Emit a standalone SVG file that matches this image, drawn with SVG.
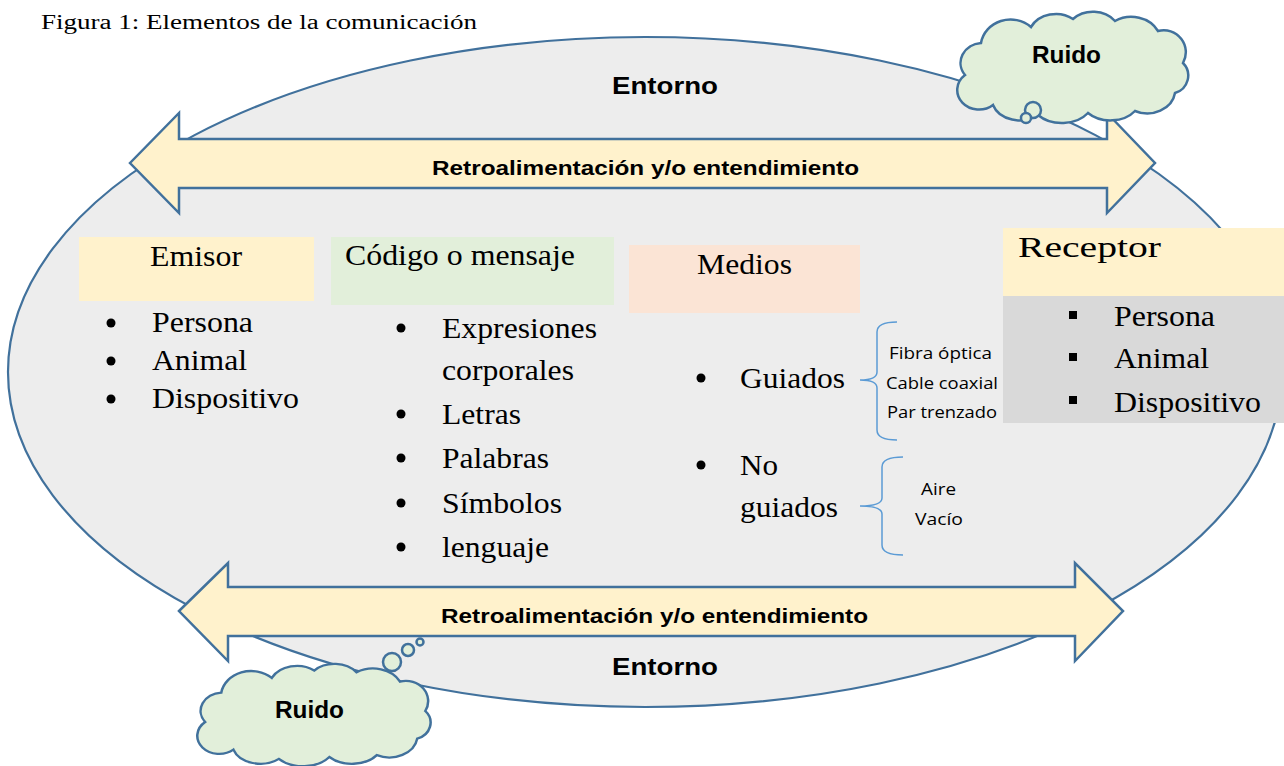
<svg xmlns="http://www.w3.org/2000/svg" width="1284" height="766" viewBox="0 0 1284 766">
<style>
.ser{font-family:"Liberation Serif","Times New Roman",serif;fill:#000}
.bold{font-family:"Liberation Sans",Arial,sans-serif;font-weight:bold;fill:#000}
.cal{font-family:"Open Sans","Liberation Sans",sans-serif;fill:#000;font-size:16px}
.edge{stroke:#41719c;stroke-width:2.2}
.brace{fill:none;stroke:#5b9bd5;stroke-width:1.5}
.cloud{fill:#e2efda;stroke:#41719c;stroke-width:2.5}
.arrow{fill:#fff2cc;stroke:#41719c;stroke-width:2.5;stroke-linejoin:miter}
</style>
<defs>
<path id="cloudShape" d="M 12,62 A 22,20 0 0 1 28,30 A 30,28 0 0 1 78,14 A 28,24 0 0 1 120,6 A 28,24 0 0 1 162,8 A 30,26 0 0 1 205,18 A 22,22 0 0 1 230,50 A 18,18 0 0 1 222,80 A 28,24 0 0 1 182,98 A 30,22 0 0 1 135,100 A 32,24 0 0 1 85,102 A 28,22 0 0 1 40,92 A 20,18 0 0 1 12,62 Z"/>
</defs>
<rect width="1284" height="766" fill="#fff"/>
<text class="ser" x="41" y="29" font-size="20" textLength="436" lengthAdjust="spacingAndGlyphs">Figura 1: Elementos de la comunicación</text>

<g id="entorno">
<ellipse cx="645" cy="372" rx="637" ry="335" fill="#ededed" class="edge"/>
<text class="bold" x="612" y="94" font-size="24" textLength="106" lengthAdjust="spacingAndGlyphs">Entorno</text>
<text class="bold" x="612" y="675" font-size="24" textLength="106" lengthAdjust="spacingAndGlyphs">Entorno</text>
</g>

<g id="connectors">
<path class="arrow" d="M130,163 L179,113 L179,139 L1107,139 L1107,113 L1155,163 L1107,213 L1107,188 L179,188 L179,213 Z"/>
<text class="bold" x="432" y="175" font-size="20" textLength="427" lengthAdjust="spacingAndGlyphs">Retroalimentación y/o entendimiento</text>
<path class="arrow" d="M179,611 L228,563 L228,587 L1075,587 L1075,563 L1123,611 L1075,661 L1075,636 L228,636 L228,661 Z"/>
<text class="bold" x="441" y="623" font-size="20" textLength="427" lengthAdjust="spacingAndGlyphs">Retroalimentación y/o entendimiento</text>
<path class="brace" d="M897,322 Q877,322 877,332 L877,372 Q877,380 860,380 Q877,380 877,388 L877,430 Q877,440 897,440"/>
<path class="brace" d="M903,457 Q882,457 882,467 L882,498 Q882,506 860,506 Q882,506 882,514 L882,545 Q882,555 903,555"/>
</g>

<g id="ruido-top">
<use href="#cloudShape" class="cloud" transform="translate(953,13)"/>
<circle cx="1033" cy="110" r="8" class="cloud"/>
<circle cx="1026" cy="118" r="5" class="cloud"/>
<text class="bold" x="1032" y="63" font-size="23" textLength="69" lengthAdjust="spacingAndGlyphs">Ruido</text>
</g>

<g id="ruido-bottom">
<use href="#cloudShape" class="cloud" transform="translate(193,665) scale(1.01,0.92)"/>
<circle cx="392" cy="662" r="9" class="cloud"/>
<circle cx="408" cy="650" r="6" class="cloud"/>
<circle cx="420" cy="642" r="3.5" class="cloud"/>
<text class="bold" x="275" y="718" font-size="23" textLength="69" lengthAdjust="spacingAndGlyphs">Ruido</text>
</g>

<g id="emisor">
<rect x="79" y="237" width="235" height="64" fill="#fff2cc"/>
<text class="ser" x="150" y="266" font-size="29" textLength="92" lengthAdjust="spacingAndGlyphs">Emisor</text>
<g class="ser" font-size="29">
<circle cx="111" cy="323" r="4.5"/><text x="152" y="332" textLength="101" lengthAdjust="spacingAndGlyphs">Persona</text>
<circle cx="111" cy="361" r="4.5"/><text x="152" y="370" textLength="95" lengthAdjust="spacingAndGlyphs">Animal</text>
<circle cx="111" cy="399" r="4.5"/><text x="152" y="408" textLength="147" lengthAdjust="spacingAndGlyphs">Dispositivo</text>
</g>
</g>

<g id="codigo">
<rect x="331" y="237" width="283" height="68" fill="#e2efda"/>
<text class="ser" x="345" y="265" font-size="29" textLength="230" lengthAdjust="spacingAndGlyphs">Código o mensaje</text>
<g class="ser" font-size="30">
<circle cx="401" cy="328" r="4.5"/><text x="442" y="338" textLength="155" lengthAdjust="spacingAndGlyphs">Expresiones</text>
<text x="442" y="380" textLength="132" lengthAdjust="spacingAndGlyphs">corporales</text>
<circle cx="401" cy="414" r="4.5"/><text x="442" y="424" textLength="79" lengthAdjust="spacingAndGlyphs">Letras</text>
<circle cx="401" cy="458" r="4.5"/><text x="442" y="468" textLength="107" lengthAdjust="spacingAndGlyphs">Palabras</text>
<circle cx="401" cy="503" r="4.5"/><text x="442" y="513" textLength="120" lengthAdjust="spacingAndGlyphs">Símbolos</text>
<circle cx="401" cy="547" r="4.5"/><text x="442" y="557" textLength="107" lengthAdjust="spacingAndGlyphs">lenguaje</text>
</g>
</g>

<g id="medios">
<rect x="629" y="245" width="231" height="68" fill="#fbe4d5"/>
<text class="ser" x="697" y="274" font-size="29" textLength="95" lengthAdjust="spacingAndGlyphs">Medios</text>
<g class="ser" font-size="30">
<circle cx="701" cy="378" r="4.5"/><text x="740" y="388" textLength="105" lengthAdjust="spacingAndGlyphs">Guiados</text>
<circle cx="701" cy="465" r="4.5"/><text x="740" y="475" textLength="38" lengthAdjust="spacingAndGlyphs">No</text>
<text x="740" y="517" textLength="98" lengthAdjust="spacingAndGlyphs">guiados</text>
</g>
<text class="cal" x="889" y="359" textLength="103" lengthAdjust="spacingAndGlyphs">Fibra óptica</text>
<text class="cal" x="886" y="389" textLength="112" lengthAdjust="spacingAndGlyphs">Cable coaxial</text>
<text class="cal" x="887" y="418" textLength="110" lengthAdjust="spacingAndGlyphs">Par trenzado</text>
<text class="cal" x="921" y="495" textLength="35" lengthAdjust="spacingAndGlyphs">Aire</text>
<text class="cal" x="915" y="525" textLength="48" lengthAdjust="spacingAndGlyphs">Vacío</text>
</g>

<g id="receptor">
<rect x="1003" y="228" width="281" height="68" fill="#fff2cc"/>
<rect x="1003" y="296" width="281" height="127" fill="#d9d9d9"/>
<text class="ser" x="1018" y="257" font-size="29" textLength="143" lengthAdjust="spacingAndGlyphs">Receptor</text>
<g class="ser" font-size="30">
<rect x="1069" y="311" width="8" height="8"/><text x="1114" y="326" textLength="101" lengthAdjust="spacingAndGlyphs">Persona</text>
<rect x="1069" y="353" width="8" height="8"/><text x="1114" y="368" textLength="95" lengthAdjust="spacingAndGlyphs">Animal</text>
<rect x="1069" y="396" width="8" height="8"/><text x="1114" y="412" textLength="147" lengthAdjust="spacingAndGlyphs">Dispositivo</text>
</g>
</g>
</svg>
